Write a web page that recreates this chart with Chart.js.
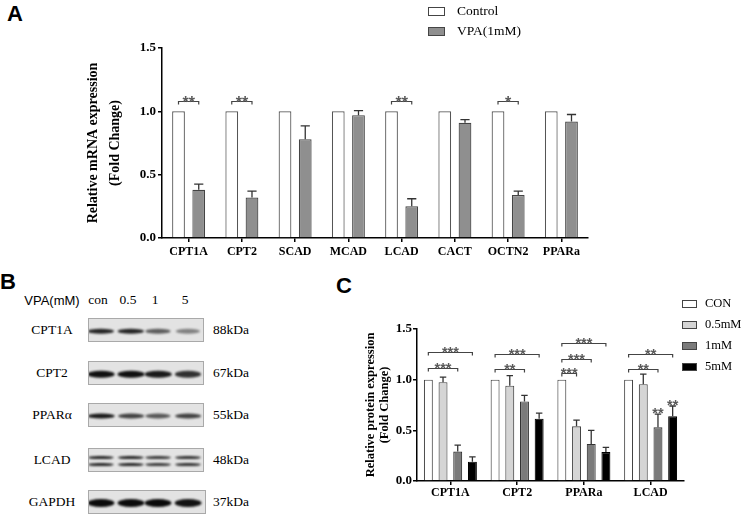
<!DOCTYPE html>
<html>
<head>
<meta charset="utf-8">
<script src="https://cdn.jsdelivr.net/npm/chart.js@4.4.0/dist/chart.umd.min.js"></script>
<style>
  body { margin: 0; background: #fff; }
  #page { position: relative; width: 747px; height: 519px; overflow: hidden; background: #fff; font-family: "Liberation Serif", serif; color: #000; }
  canvas { position: absolute; }
  .letter { position: absolute; font-family: "Liberation Sans", Arial, sans-serif; font-weight: bold; font-size: 22px; line-height: 1; }
  .leg { position: absolute; height: 20px; white-space: nowrap; }
  .leg i { position: absolute; top: 50%; box-sizing: border-box; border: 1px solid #444; }
  .leg span { position: absolute; top: 50%; transform: translateY(-52%); }
  .txt { position: absolute; white-space: nowrap; transform: translate(-50%, -50%); }
  .blot { position: absolute; box-sizing: border-box; border: 1px solid #a9a9a9; background: #e3e3e3; overflow: hidden; }
  .band { position: absolute; border-radius: 50%; background: #0a0a0a; filter: blur(1px); transform: translate(-50%, -50%); }
</style>
</head>
<body>
<div id="page">
  <div class="letter" style="left:7px;top:3px">A</div>
  <div class="letter" style="left:0px;top:271px">B</div>
  <div class="letter" style="left:336px;top:275px">C</div>
  <canvas id="chartA" width="620" height="268" style="left:0;top:0"></canvas>
  <canvas id="chartC" width="360" height="249" style="left:330px;top:270px"></canvas>
</div>
<script>
// ---- panel A: mRNA ----
const genesA = ["CPT1A", "CPT2", "SCAD", "MCAD", "LCAD", "CACT", "OCTN2", "PPARa"];
const controlA = [1, 1, 1, 1, 1, 1, 1, 1];
const vpaA = [0.38, 0.32, 0.78, 0.97, 0.25, 0.91, 0.34, 0.92];
const vpaErrA = [0.045, 0.05, 0.105, 0.035, 0.06, 0.025, 0.03, 0.055];
// [gene index, from dataset, to dataset, bracket height, label]
const sigA = [[0, 0, 1, 1.08, "**"], [1, 0, 1, 1.08, "**"], [4, 0, 1, 1.08, "**"], [6, 0, 1, 1.08, "*"]];

// ---- panel C: protein ----
const proteinsC = ["CPT1A", "CPT2", "PPARa", "LCAD"];
const doseLabels = ["CON", "0.5mM", "1mM", "5mM"];
const conC = [1, 1, 1, 1];
const mM05C = [0.975, 0.94, 0.54, 0.955];
const mM1C = [0.29, 0.785, 0.365, 0.53];
const mM5C = [0.19, 0.615, 0.285, 0.64];
const err05C = [0.05, 0.1, 0.06, 0.1];
const err1C = [0.065, 0.06, 0.135, 0.13];
const err5C = [0.048, 0.055, 0.046, 0.1];
const sigC = [
  [0, 0, 2, 1.115, "***"], [0, 0, 3, 1.277, "***"],
  [1, 0, 2, 1.109, "**"], [1, 0, 3, 1.257, "***"],
  [2, 0, 1, 1.066, "***"], [2, 0, 2, 1.208, "***"], [2, 0, 3, 1.36, "***"],
  [3, 0, 2, 1.109, "**"], [3, 0, 3, 1.257, "**"]
];
// stars directly over a bar: [protein index, dataset, label]
const marksC = [[3, 2, "**"], [3, 3, "**"]];

// ---- panel B: western blot ----
const blotRows = ["CPT1A", "CPT2", "PPARα", "LCAD", "GAPDH"];
const blotKDa = ["88kDa", "67kDa", "55kDa", "48kDa", "37kDa"];
const blotLanes = ["con", "0.5", "1", "5"];
const bandCPT1A = [0.88, 0.88, 0.62, 0.45];
const bandCPT2 = [0.97, 0.97, 0.92, 0.82];
const bandPPARa = [0.92, 0.74, 0.64, 0.74];
const bandLCAD = [0.88, 0.88, 0.78, 0.82];
const bandGAPDH = [1, 1, 1, 0.96];

const serif = "Liberation Serif";

const errBars = {
  id: "errBars",
  afterDatasetsDraw(chart) {
    const ctx = chart.ctx, y = chart.scales.y;
    chart.data.datasets.forEach((ds, i) => {
      if (!ds.err) return;
      chart.getDatasetMeta(i).data.forEach((bar, j) => {
        const top = y.getPixelForValue(ds.data[j] + ds.err[j]);
        const cap = bar.width * 0.36;
        ctx.save();
        ctx.strokeStyle = "#333";
        ctx.lineWidth = 1.3;
        ctx.beginPath();
        ctx.moveTo(bar.x, bar.y);
        ctx.lineTo(bar.x, top);
        ctx.moveTo(bar.x - cap, top);
        ctx.lineTo(bar.x + cap, top);
        ctx.stroke();
        ctx.restore();
      });
    });
  }
};

const sig = {
  id: "sig",
  afterDatasetsDraw(chart, args, opts) {
    const ctx = chart.ctx, y = chart.scales.y;
    ctx.save();
    ctx.strokeStyle = "#444";
    ctx.lineWidth = 1.2;
    ctx.fillStyle = "#5a5a5a";
    ctx.font = "bold " + opts.size + "px 'Liberation Sans'";
    ctx.textAlign = "center";
    ctx.textBaseline = "alphabetic";
    (opts.brackets || []).forEach(([g, a, b, v, txt]) => {
      const x1 = chart.getDatasetMeta(a).data[g].x;
      const x2 = chart.getDatasetMeta(b).data[g].x;
      const yy = Math.round(y.getPixelForValue(v)) + 0.5;
      ctx.beginPath();
      ctx.moveTo(x1, yy + 3);
      ctx.lineTo(x1, yy);
      ctx.lineTo(x2, yy);
      ctx.lineTo(x2, yy + 3);
      ctx.stroke();
      ctx.fillText(txt, (x1 + x2) / 2, yy + opts.lift);
    });
    (opts.marks || []).forEach(([g, d, txt]) => {
      const ds = chart.data.datasets[d];
      const bar = chart.getDatasetMeta(d).data[g];
      const top = y.getPixelForValue(ds.data[g] + ds.err[g]);
      ctx.fillText(txt, bar.x, top + opts.markLift);
    });
    ctx.restore();
  }
};

const axisScales = (o) => ({
  x: {
    grid: { drawOnChartArea: false, offset: false, tickLength: 4, color: "#000", lineWidth: 1.5 },
    border: { color: "#000", width: 1.5 },
    ticks: { font: { family: serif, weight: "bold", size: 12 }, color: "#000", padding: o.xPad, maxRotation: 0, autoSkip: false },
    afterFit: s => { s.height = o.xH; }
  },
  y: {
    min: 0, max: 1.5,
    grid: { drawOnChartArea: false, tickLength: 4, color: "#000", lineWidth: 1.5 },
    border: { color: "#000", width: 1.5 },
    ticks: { stepSize: 0.5, callback: v => v.toFixed(1), font: { family: serif, weight: "bold", size: 13 }, color: "#000", padding: o.yPad },
    title: { display: true, text: o.title, color: "#000", padding: 0, font: { family: serif, weight: "bold", size: o.titleSize, lineHeight: o.titleLH } },
    afterFit: s => { s.width = o.yW; }
  }
});

const chartA = new Chart(document.getElementById("chartA"), {
  type: "bar",
  data: {
    labels: genesA,
    datasets: [
      { label: "Control", data: controlA, backgroundColor: "#ffffff", borderColor: "#555", borderWidth: 1.2 },
      { label: "VPA(1mM)", data: vpaA, err: vpaErrA, backgroundColor: "#8f8f8f", borderColor: "#444", borderWidth: 1.2 }
    ]
  },
  options: {
    responsive: false,
    animation: false,
    datasets: { bar: { categoryPercentage: 0.76, barPercentage: 0.63 } },
    layout: { padding: { left: 83, top: 48, right: 32, bottom: 0 } },
    plugins: {
      legend: { display: false },
      tooltip: { enabled: false },
      sig: { brackets: sigA, size: 16, lift: 6 }
    },
    scales: axisScales({ xPad: 3, xH: 30, yPad: 2, yW: 79, title: ["Relative mRNA expression", "(Fold Change)"], titleSize: 14, titleLH: 1.55 })
  },
  plugins: [errBars, sig]
});

const doseColors = ["#ffffff", "#d5d5d5", "#7b7b7b", "#000000"];
const chartC = new Chart(document.getElementById("chartC"), {
  type: "bar",
  data: {
    labels: proteinsC,
    datasets: [
      { label: doseLabels[0], data: conC, backgroundColor: doseColors[0], borderColor: "#444", borderWidth: 1.1 },
      { label: doseLabels[1], data: mM05C, err: err05C, backgroundColor: doseColors[1], borderColor: "#444", borderWidth: 1.1 },
      { label: doseLabels[2], data: mM1C, err: err1C, backgroundColor: doseColors[2], borderColor: "#333", borderWidth: 1.1 },
      { label: doseLabels[3], data: mM5C, err: err5C, backgroundColor: doseColors[3], borderColor: "#000", borderWidth: 1.1 }
    ]
  },
  options: {
    responsive: false,
    animation: false,
    datasets: { bar: { categoryPercentage: 0.88, barPercentage: 0.61 } },
    layout: { padding: { left: 33.5, top: 59, right: 6, bottom: 13 } },
    plugins: {
      legend: { display: false },
      tooltip: { enabled: false },
      sig: { brackets: sigC, marks: marksC, size: 14.5, lift: 4.5, markLift: 4 }
    },
    scales: axisScales({ xPad: 1, xH: 25, yPad: 1, yW: 53.5, title: ["Relative protein expression", "(Fold Change)"], titleSize: 12.5, titleLH: 1.12 })
  },
  plugins: [errBars, sig]
});

const page = document.getElementById("page");
const add = (cls, style, text) => {
  const d = document.createElement("div");
  d.className = cls;
  d.style.cssText = style;
  if (text !== undefined) d.textContent = text;
  page.appendChild(d);
  return d;
};

// legends built from the chart datasets
const legend = (chart, left, top, step, boxW, boxH, textX, size) => {
  chart.data.datasets.forEach((ds, i) => {
    const row = add("leg", `left:${left}px;top:${top + i * step}px;font-size:${size}px`);
    const box = document.createElement("i");
    box.style.cssText = `left:0;width:${boxW}px;height:${boxH}px;margin-top:${-boxH / 2}px;background:${ds.backgroundColor}`;
    const lab = document.createElement("span");
    lab.style.left = textX + "px";
    lab.textContent = ds.label;
    row.appendChild(box);
    row.appendChild(lab);
  });
};
legend(chartA, 428, 1, 20, 17, 9, 29, 13.5);
legend(chartC, 682, 294, 21, 15, 8, 23, 12.5);

// western blot panel
const laneX = [100, 130, 157, 187];
const rowY = [330, 373, 415, 460, 502];
const bands = [bandCPT1A, bandCPT2, bandPPARa, bandLCAD, bandGAPDH];
add("txt", "left:52px;top:300px;font-family:'Liberation Sans';font-size:13px", "VPA(mM)");
blotLanes.forEach((l, i) => add("txt", `left:${laneX[i] - 2}px;top:300px;font-size:13.5px`, l));
blotRows.forEach((name, r) => {
  add("txt", `left:52px;top:${rowY[r]}px;font-size:13.5px`, name);
  add("txt", `left:${213}px;top:${rowY[r]}px;font-size:13.5px;transform:translate(0,-50%)`, blotKDa[r]);
  const box = add("blot", `left:88px;top:${rowY[r] - 12}px;width:${r === 4 ? 118 : 116}px;height:24px`);
  const thick = [4.5, 6.5, 5, 3.8, 8][r];
  const offs = r === 3 ? [-3.5, 3.5] : [0];
  bands[r].forEach((v, i) => {
    offs.forEach(o => {
      const b = document.createElement("div");
      b.className = "band";
      b.style.cssText = `left:${laneX[i] - 88}px;top:${12 + o}px;width:${22 + v * 5}px;height:${thick}px;opacity:${v}`;
      box.appendChild(b);
    });
  });
});
</script>
</body>
</html>
